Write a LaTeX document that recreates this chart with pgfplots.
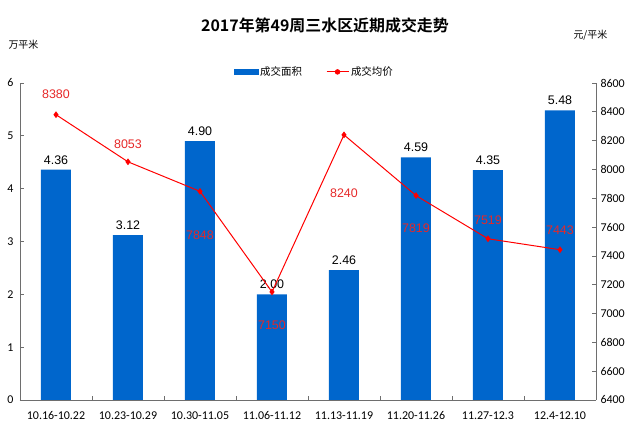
\documentclass[border=0pt]{standalone}
\usepackage{pgfplots}
\pgfplotsset{compat=1.18}
\usepackage{fontspec}
\setmainfont{Liberation Sans}
\newfontfamily\cjk{Noto Sans CJK SC}
\newfontfamily\cjkb{Noto Sans CJK SC Bold}
\newfontfamily\carlito{Carlito}
\definecolor{barblue}{RGB}{0,102,204}
\definecolor{pricered}{RGB}{255,0,0}
\definecolor{labred}{RGB}{230,40,40}
\definecolor{axgray}{RGB}{110,110,110}
\pgfplotstableread{
x y off
0 8380 20
1 8053 18
2 7848 -44
3 7150 -33
4 8240 -58
5 7819 -33
6 7519 19
7 7443 19
}\pricetable
\pgfplotstableread{
x y
0 4.36
1 3.12
2 4.90
3 2.00
4 2.46
5 4.59
6 4.35
7 5.48
}\areatable
\begin{document}
\begin{tikzpicture}
\useasboundingbox (0bp,0bp) rectangle (640bp,438bp);
\begin{axis}[
  at={(20bp,38bp)}, anchor=south west, scale only axis,
  width=576bp, height=317bp,
  xmin=-0.5, xmax=7.5, ymin=0, ymax=6,
  ytick={0,...,6},
  axis y line*=left, axis x line*=bottom,
  axis line style={axgray, line width=0.8bp},
  xtick={0,...,7},
  xticklabels={10.16-10.22,10.23-10.29,10.30-11.05,11.06-11.12,11.13-11.19,11.20-11.26,11.27-12.3,12.4-12.10},
  major x tick style={draw=none},
  minor xtick={0.5,1.5,...,6.5},
  minor tick length=4bp, major tick length=4bp,
  tick align=inside,
  tick style={axgray, line width=0.8bp},
  ticklabel style={font=\carlito\fontsize{12}{12}\selectfont, text=black},
  /pgf/number format/assume math mode=true,
  xticklabel style={yshift=-8bp},
  yticklabel style={xshift=-3bp},
  clip=false,
]
\addplot[ybar, bar width=30bp, fill=barblue, draw=none,
  nodes near coords={\pgfmathprintnumber[fixed,fixed zerofill,precision=2,assume math mode=true]{\pgfplotspointmeta}},
  every node near coord/.append style={font=\fontsize{12.5}{12.5}\selectfont, text=black, yshift=2bp}]
  table[x=x,y=y]{\areatable};
\end{axis}
\begin{axis}[
  at={(20bp,38bp)}, anchor=south west, scale only axis,
  width=576bp, height=317bp,
  xmin=-0.5, xmax=7.5, ymin=6400, ymax=8600,
  ytick={6400,6600,...,8600},
  axis y line*=right, axis x line=none,
  axis line style={axgray, line width=0.8bp},
  tick align=inside, major tick length=4bp,
  tick style={axgray, line width=0.8bp},
  ticklabel style={font=\carlito\fontsize{12}{12}\selectfont, text=black},
  /pgf/number format/assume math mode=true,
  /pgf/number format/1000 sep={},
  yticklabel style={xshift=1bp},
  clip=false,
  legend style={draw=none, fill=none, at={(0.511,1.035)}, anchor=center,
    font=\cjk\fontsize{10.5}{10.5}\selectfont,
    /tikz/every even column/.append style={column sep=22bp}},
  legend columns=2,
  legend image code/.code={},
]
\addlegendimage{legend image code/.code={\fill[barblue] (0bp,-2.5bp) rectangle (24bp,2.5bp);}}
\addlegendentry{成交面积}
\addplot[pricered, line width=1bp, mark=diamond*, mark size=2.6bp,
  mark options={fill=pricered, draw=pricered},
  legend image code/.code={\draw[pricered, line width=1bp] (0bp,0bp) -- (22bp,0bp); \fill[pricered] (11bp,0bp) circle (2.2bp);},
  point meta=explicit,
  visualization depends on={\thisrow{off}\as\myoff},
  nodes near coords={\pgfmathprintnumber[fixed,precision=0,1000 sep={},assume math mode=true]{\pgfplotspointmeta}},
  every node near coord/.append style={anchor=center, yshift=\myoff bp, font=\fontsize{12.5}{12.5}\selectfont, text=labred}]
  table[x=x,y=y,meta=y]{\pricetable};
\addlegendentry{成交均价}
\end{axis}
\node[font=\cjkb\fontsize{16}{16}\selectfont] at (325bp,413bp) {2017年第49周三水区近期成交走势};
\node[font=\cjk\fontsize{10}{10}\selectfont, anchor=west] at (5bp,393bp) {万平米};
\node[font=\cjk\fontsize{10}{10}\selectfont, anchor=west] at (570bp,403bp) {元/平米};
\end{tikzpicture}
\end{document}
